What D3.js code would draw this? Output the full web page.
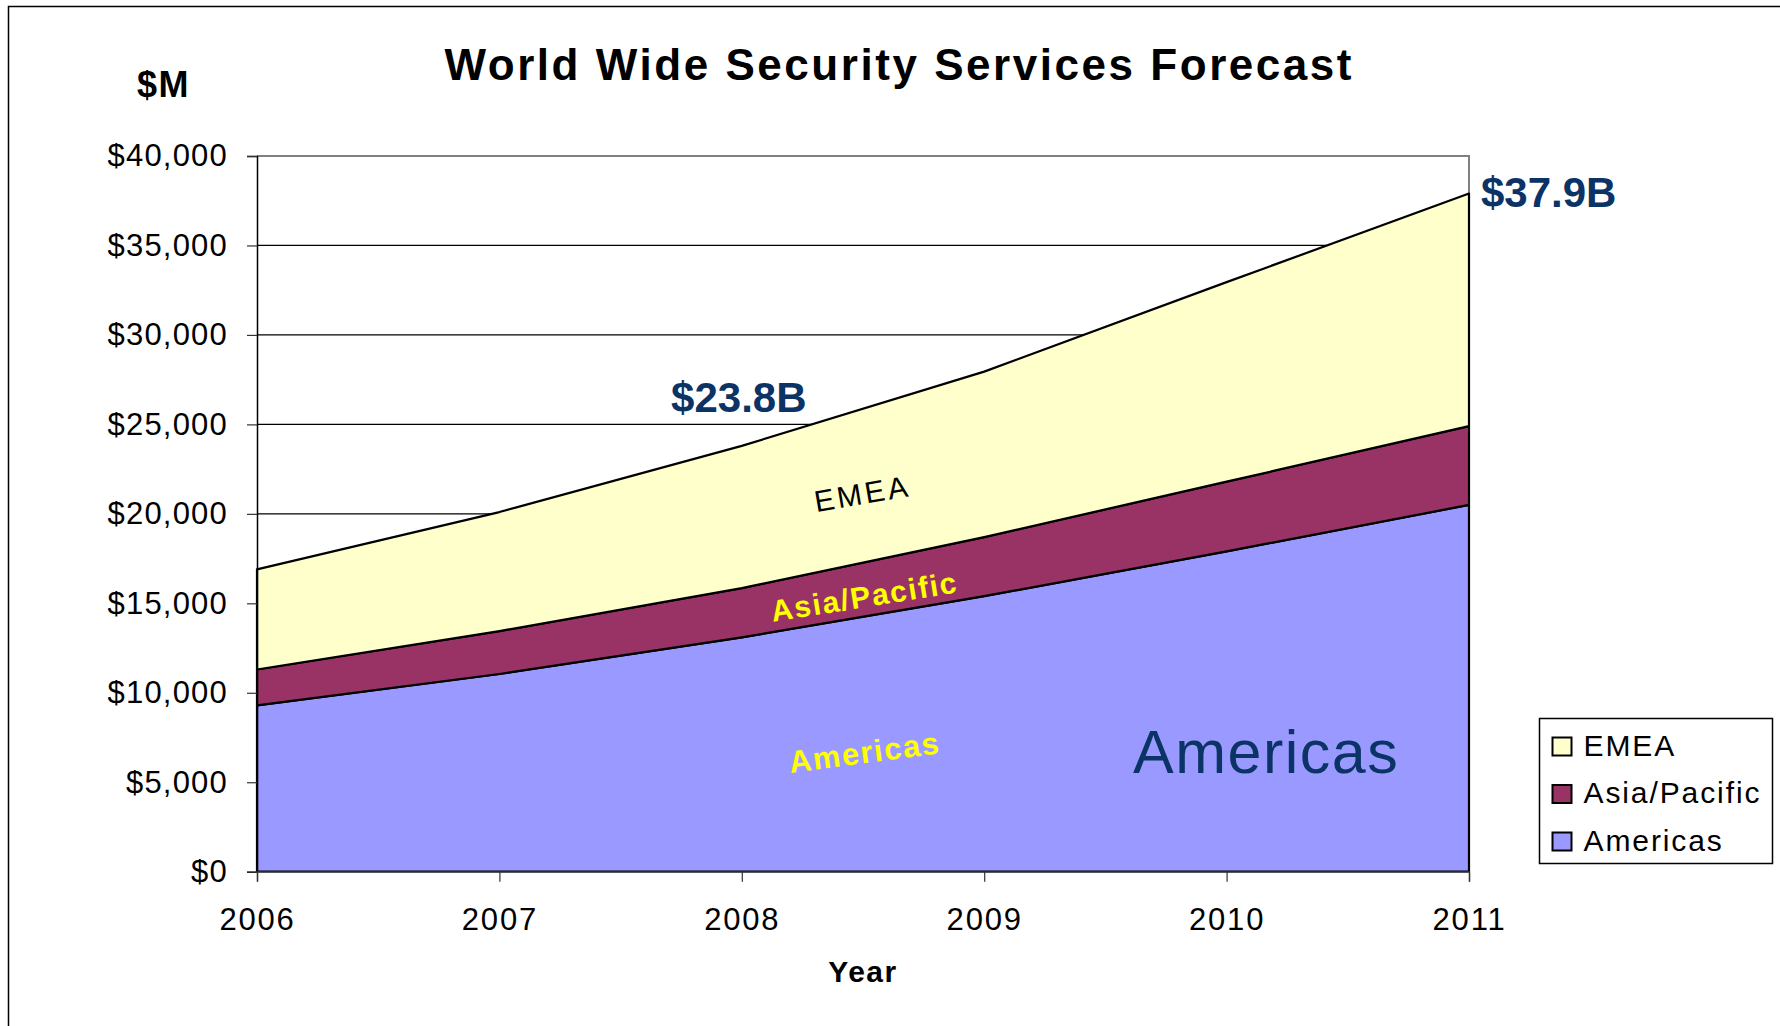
<!DOCTYPE html>
<html>
<head>
<meta charset="utf-8">
<script src="https://cdn.jsdelivr.net/npm/d3@7"></script>
<style>
  html, body { margin: 0; padding: 0; background: #fff; }
  svg { display: block; font-family: "Liberation Sans", Arial, sans-serif; }
</style>
</head>
<body>
<div id="chart"></div>
<script>
const years = [2006, 2007, 2008, 2009, 2010, 2011];
const americas = [9300, 11050, 13100, 15400, 17900, 20500];
const asiaPacific = [2000, 2400, 2750, 3300, 3900, 4400];
const emea = [5600, 6650, 7950, 9250, 11150, 13000];
const seriesNames = ["Americas", "Asia/Pacific", "EMEA"];
const seriesColors = ["#9999ff", "#993366", "#ffffcc"];
const yTicks = [0, 5000, 10000, 15000, 20000, 25000, 30000, 35000, 40000];

const width = 1780,
  height = 1026;

const rows = years.map((yr, i) => ({
  year: yr,
  "Americas": americas[i],
  "Asia/Pacific": asiaPacific[i],
  "EMEA": emea[i]
}));
const totals = years.map((yr, i) => americas[i] + asiaPacific[i] + emea[i]);

const svg = d3
  .select("#chart")
  .append("svg")
  .attr("width", width)
  .attr("height", height);

// outer frame
svg
  .append("rect")
  .attr("x", 8.5)
  .attr("y", 6.5)
  .attr("width", width)
  .attr("height", height + 10)
  .attr("fill", "none")
  .attr("stroke", "#000")
  .attr("stroke-width", 1.5);

const x = d3.scalePoint().domain(years).range([257, 1469]);
const y = d3.scaleLinear().domain([0, 40000]).range([871.7, 156]);

// gridlines
svg
  .append("g")
  .selectAll("line")
  .data(yTicks.slice(1, -1))
  .enter()
  .append("line")
  .attr("x1", x(2006))
  .attr("x2", x(2011))
  .attr("y1", (d) => y(d))
  .attr("y2", (d) => y(d))
  .attr("stroke", "#000")
  .attr("stroke-width", 1.2);

// plot border (top / right)
svg
  .append("path")
  .attr("d", `M${x(2006)},${y(40000)}H${x(2011)}V${y(0)}`)
  .attr("fill", "none")
  .attr("stroke", "#808080")
  .attr("stroke-width", 2);

const stack = d3.stack().keys(seriesNames);
const stacked = stack(rows);

const area = d3
  .area()
  .x((d) => x(d.data.year))
  .y0((d) => y(d[0]))
  .y1((d) => y(d[1]));

svg
  .append("g")
  .selectAll("path")
  .data(stacked)
  .enter()
  .append("path")
  .attr("d", area)
  .attr("fill", (d, i) => seriesColors[i])
  .attr("stroke", "#000")
  .attr("stroke-width", 2.2)
  .attr("stroke-linejoin", "round");

// axes
const yAxis = svg
  .append("g")
  .attr("transform", `translate(${x(2006)},0)`)
  .call(
    d3
      .axisLeft(y)
      .tickValues(yTicks)
      .tickFormat(d3.format("$,"))
      .tickSize(10)
      .tickPadding(19)
  );
yAxis.select(".domain").attr("stroke", "#000").attr("stroke-width", 1.5);
yAxis.selectAll(".tick line").attr("stroke", "#333").attr("stroke-width", 1.2);
yAxis
  .selectAll("text")
  .attr("font-size", 31)
  .attr("letter-spacing", 1.2)
  .attr("fill", "#000")
  .attr("font-family", "'Liberation Sans', Arial, sans-serif");

const xAxis = svg
  .append("g")
  .attr("transform", `translate(0,${y(0)})`)
  .call(d3.axisBottom(x).tickSize(10).tickPadding(26));
xAxis.select(".domain").attr("stroke", "#555").attr("stroke-width", 1.5);
xAxis.selectAll(".tick line").attr("stroke", "#333").attr("stroke-width", 1.2);
xAxis
  .selectAll("text")
  .attr("font-size", 31)
  .attr("letter-spacing", 1.8)
  .attr("fill", "#000")
  .attr("font-family", "'Liberation Sans', Arial, sans-serif");

// titles
svg
  .append("text")
  .attr("x", 898)
  .attr("y", 80)
  .attr("text-anchor", "middle")
  .attr("font-size", 44)
  .attr("font-weight", "bold")
  .attr("textLength", 907)
  .attr("lengthAdjust", "spacing")
  .text("World Wide Security Services Forecast");

svg
  .append("text")
  .attr("x", 137)
  .attr("y", 97)
  .attr("font-size", 36)
  .attr("font-weight", "bold")
  .attr("letter-spacing", 1.5)
  .text("$M");

svg
  .append("text")
  .attr("x", (x(2006) + x(2011)) / 2)
  .attr("y", 982)
  .attr("text-anchor", "middle")
  .attr("font-size", 30)
  .attr("font-weight", "bold")
  .attr("letter-spacing", 1.5)
  .text("Year");

// total annotations
svg
  .append("text")
  .attr("x", x(2008) - 3)
  .attr("y", y(totals[2]) - 34)
  .attr("text-anchor", "middle")
  .attr("font-size", 42)
  .attr("font-weight", "bold")
  .attr("fill", "#0b3366")
  .text("$23.8B");

svg
  .append("text")
  .attr("x", x(2011) + 12)
  .attr("y", y(totals[5]) + 13)
  .attr("font-size", 42)
  .attr("font-weight", "bold")
  .attr("fill", "#0b3366")
  .text("$37.9B");

// in-chart series labels
const inLabels = [
  { text: "EMEA", x: 864, y: 504, rot: -9.7, size: 30, weight: "normal", fill: "#000", ls: 3 },
  { text: "Asia/Pacific", x: 866, y: 607, rot: -9, size: 30, weight: "bold", fill: "#ffff00", ls: 1.7 },
  { text: "Americas", x: 866, y: 763, rot: -7.5, size: 31, weight: "bold", fill: "#ffff00", ls: 1.6 }
];
svg
  .append("g")
  .selectAll("text")
  .data(inLabels)
  .enter()
  .append("text")
  .attr("transform", (d) => `translate(${d.x},${d.y}) rotate(${d.rot})`)
  .attr("text-anchor", "middle")
  .attr("font-size", (d) => d.size)
  .attr("font-weight", (d) => d.weight)
  .attr("letter-spacing", (d) => d.ls)
  .attr("fill", (d) => d.fill)
  .text((d) => d.text);

svg
  .append("text")
  .attr("x", 1133)
  .attr("y", 773)
  .attr("font-size", 61)
  .attr("fill", "#0b3366")
  .attr("letter-spacing", 1.5)
  .text("Americas");

// legend
const legend = svg.append("g").attr("transform", "translate(1539.5,718.5)");
legend
  .append("rect")
  .attr("width", 233)
  .attr("height", 145)
  .attr("fill", "#fff")
  .attr("stroke", "#000")
  .attr("stroke-width", 1.5);

const legendOrder = [2, 1, 0];
const item = legend
  .selectAll("g.item")
  .data(legendOrder)
  .enter()
  .append("g")
  .attr("class", "item")
  .attr("transform", (d, i) => `translate(0,${i * 47.5})`);
item
  .append("rect")
  .attr("x", 13)
  .attr("y", 19)
  .attr("width", 19)
  .attr("height", 18)
  .attr("fill", (d) => seriesColors[d])
  .attr("stroke", "#000")
  .attr("stroke-width", 2);
item
  .append("text")
  .attr("x", 44)
  .attr("y", 37)
  .attr("font-size", 30)
  .attr("letter-spacing", 1.9)
  .text((d) => seriesNames[d]);
</script>
</body>
</html>
